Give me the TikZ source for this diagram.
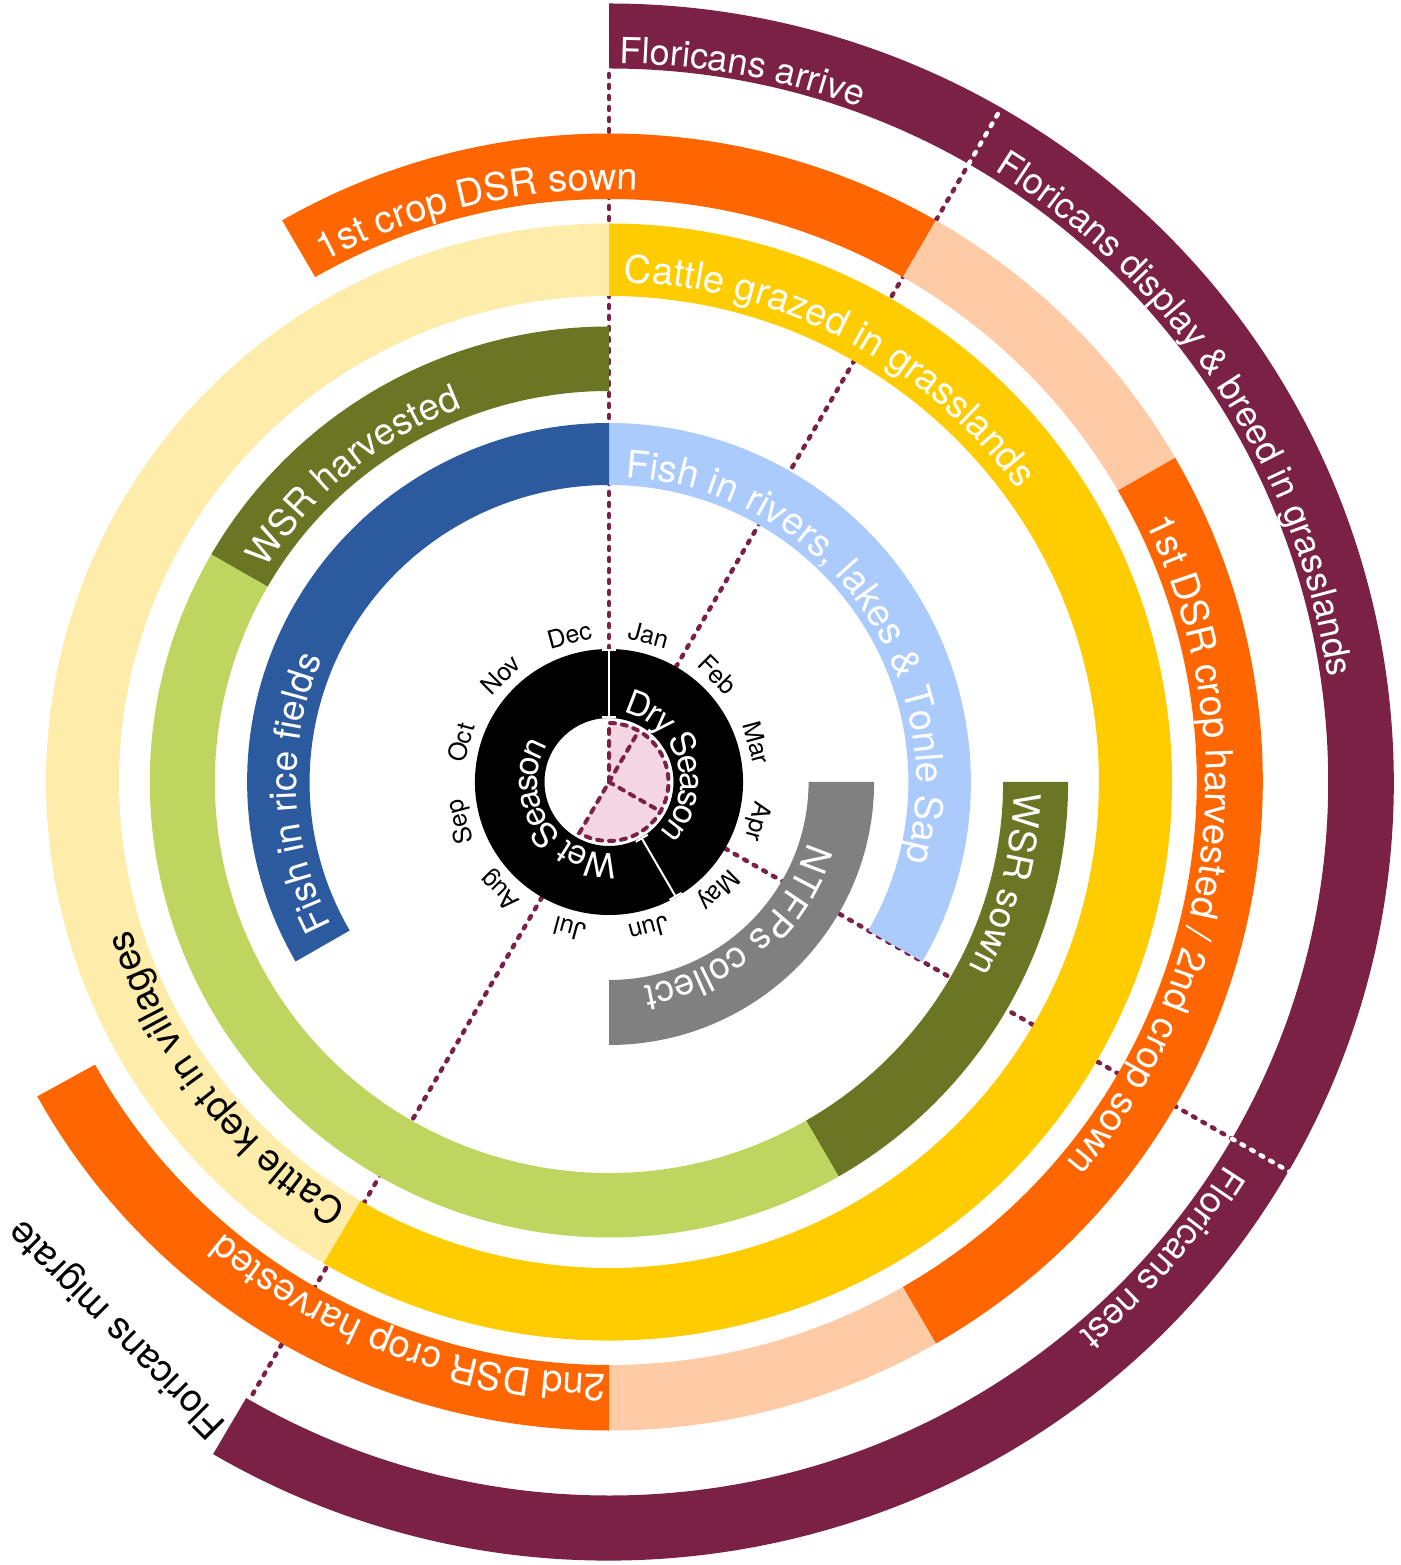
\documentclass[tikz,border=0pt]{standalone}
\usepackage{fontspec}
\setmainfont{TeX Gyre Heros}
\usetikzlibrary{decorations.text,arrows.meta}
\definecolor{maroon}{HTML}{7A2145}
\definecolor{orng}{HTML}{FF6600}
\definecolor{peach}{HTML}{FECBA6}
\definecolor{gold}{HTML}{FFCC00}
\definecolor{paleyel}{HTML}{FEECAA}
\definecolor{olive}{HTML}{6A7624}
\definecolor{lgreen}{HTML}{BED55F}
\definecolor{dblue}{HTML}{2C5A9F}
\definecolor{lblue}{HTML}{AACBFB}
\definecolor{greyband}{HTML}{808080}
\definecolor{pinkfill}{HTML}{F3D6E1}
% band: colour, from bearing, to bearing, inner radius, outer radius
\newcommand{\band}[5]{%
  \fill[#1] ({90-(#2)}:#4pt) arc[start angle={90-(#2)}, end angle={90-(#3)}, radius=#4pt]
    -- ({90-(#3)}:#5pt) arc[start angle={90-(#3)}, end angle={90-(#2)}, radius=#5pt] -- cycle;}
% text on arc: colour, start bearing, path radius, raise, size, text
\newcommand{\arctext}[6]{%
  \path[decorate, decoration={text along path,
      text={|\fontsize{#5}{#5}\selectfont\color{#1}|#6}, text align=left, raise=#4pt}]
    ({90-(#2)}:#3pt) arc[start angle={90-(#2)}, end angle={90-(#2)-300}, radius=#3pt];}
\tikzset{
  mdash/.style={draw=maroon, line width=4.5pt, dash pattern=on 3pt off 8pt, line cap=round},
  wdash/.style={draw=white, line width=4.5pt, dash pattern=on 3pt off 8pt, line cap=round},
  piedash/.style={draw=maroon, line width=4pt, dash pattern=on 5pt off 7pt, line cap=round},
  month/.style={font=\fontsize{25}{25}\selectfont, inner sep=0pt},
  seasonsep/.style={draw=white, line width=2pt, {Bar[width=14pt]}-{Bar[width=14pt]}}
}
\begin{document}
\begin{tikzpicture}[x=1pt,y=1pt]
\useasboundingbox (-609pt,-783pt) rectangle (791pt,782pt);
\begin{scope}[xscale=1.008]
\coordinate (o) at (0,0);
% radial dashed lines
\foreach \b/\n in {0/a,30/b,120/c,210/d}{
  \coordinate (in\n) at ({90-\b}:133pt);
  \coordinate (out\n) at ({90-\b}:713.5pt);
}
\coordinate (rimb) at (60:778pt);
\coordinate (rimc) at (-30:786pt);
\draw[mdash] (ina) -- (outa);
\draw[mdash] (inb) -- (outb);
\draw[mdash] (inc) -- (outc);
\draw[mdash] (ind) -- (outd);
% maroon ring
\band{maroon}{0}{210.3}{713.5}{778.5}
% orange ring
\band{orng}{-30}{30}{583}{648.5}
\band{peach}{30}{60}{583}{648.5}
\band{orng}{60}{150}{583}{648.5}
\band{peach}{150}{180}{583}{648.5}
\band{orng}{180}{241}{583}{648.5}
% yellow ring
\band{gold}{0}{210.5}{486}{558.5}
\band{paleyel}{210.5}{360}{486}{558.5}
% green ring
\band{olive}{90}{150}{391}{455.5}
\band{lgreen}{150}{300}{391}{455.5}
\band{olive}{300}{360}{391}{455.5}
% blue ring
\band{lblue}{0}{120}{297}{359}
\band{dblue}{240}{360}{297}{359}
% grey
\band{greyband}{90}{180}{198}{263}
% white dashes through maroon
\draw[wdash] (outb) -- (rimb);
\draw[wdash] (outc) -- (rimc);
% centre: pie and season ring
\fill[pinkfill] (o) -- (90:59pt) arc[start angle=90, end angle=-120, radius=59pt] -- cycle;
\coordinate (pa) at (60:59pt);
\coordinate (pb) at (-30:59pt);
\draw[piedash] (o) -- (90:59pt) arc[start angle=90, end angle=-120, radius=59pt] -- cycle;
\draw[piedash] (o) -- (pa);
\draw[piedash] (o) -- (pb);
\fill[black, even odd rule] (o) circle[radius=133pt] (o) circle[radius=64pt];
\coordinate (s1a) at (90:64pt); \coordinate (s1b) at (90:133pt);
\coordinate (s2a) at (-60:64pt); \coordinate (s2b) at (-60:133pt);
\draw[seasonsep] (s1a) -- (s1b);
\draw[seasonsep] (s2a) -- (s2b);
\arctext{white}{13}{84}{-13}{34}{Dry Season}
\arctext{white}{175}{84}{-13}{34}{Wet Season}
% months
\foreach \m [count=\i from 0] in {Jan,Feb,Mar,Apr,May,Jun,Jul,Aug,Sep,Oct,Nov,Dec}{
  \node[month, rotate={-(15+30*\i)}] (m\i) at ({90-(15+30*\i)}:152pt) {\m};
}
% band labels
\arctext{white}{0.8}{719}{0}{36}{Floricans arrive}
\arctext{white}{32}{721}{0}{36}{Floricans display {\&} breed in grasslands}
\arctext{white}{122}{721}{0}{36}{Floricans nest}
\arctext{white}{-28.5}{592}{0}{38}{1st crop DSR sown}
\arctext{white}{64}{592}{0}{38}{1st DSR crop harvested / 2nd crop sown}
\arctext{white}{180.3}{592}{0}{38}{2nd DSR crop harvested}
\arctext{white}{1.7}{500}{0}{38}{Cattle grazed in grasslands}
\arctext{black}{211.5}{497}{0}{38}{Cattle kept in villages}
\arctext{white}{302}{402}{0}{37}{WSR harvested}
\arctext{white}{91.5}{402}{0}{37}{WSR sown}
\arctext{white}{3}{305}{0}{38}{Fish in rivers, lakes {\&} Tonle Sap}
\arctext{white}{242.5}{310}{0}{37}{Fish in rice fields}
\arctext{white}{107}{207}{0}{37}{NTFPs collect}
\end{scope}
\node[anchor=base west, rotate=135, font=\fontsize{38}{38}\selectfont, inner sep=0pt] (migr) at (-381pt,-642pt) {Floricans migrate};
\end{tikzpicture}
\end{document}
